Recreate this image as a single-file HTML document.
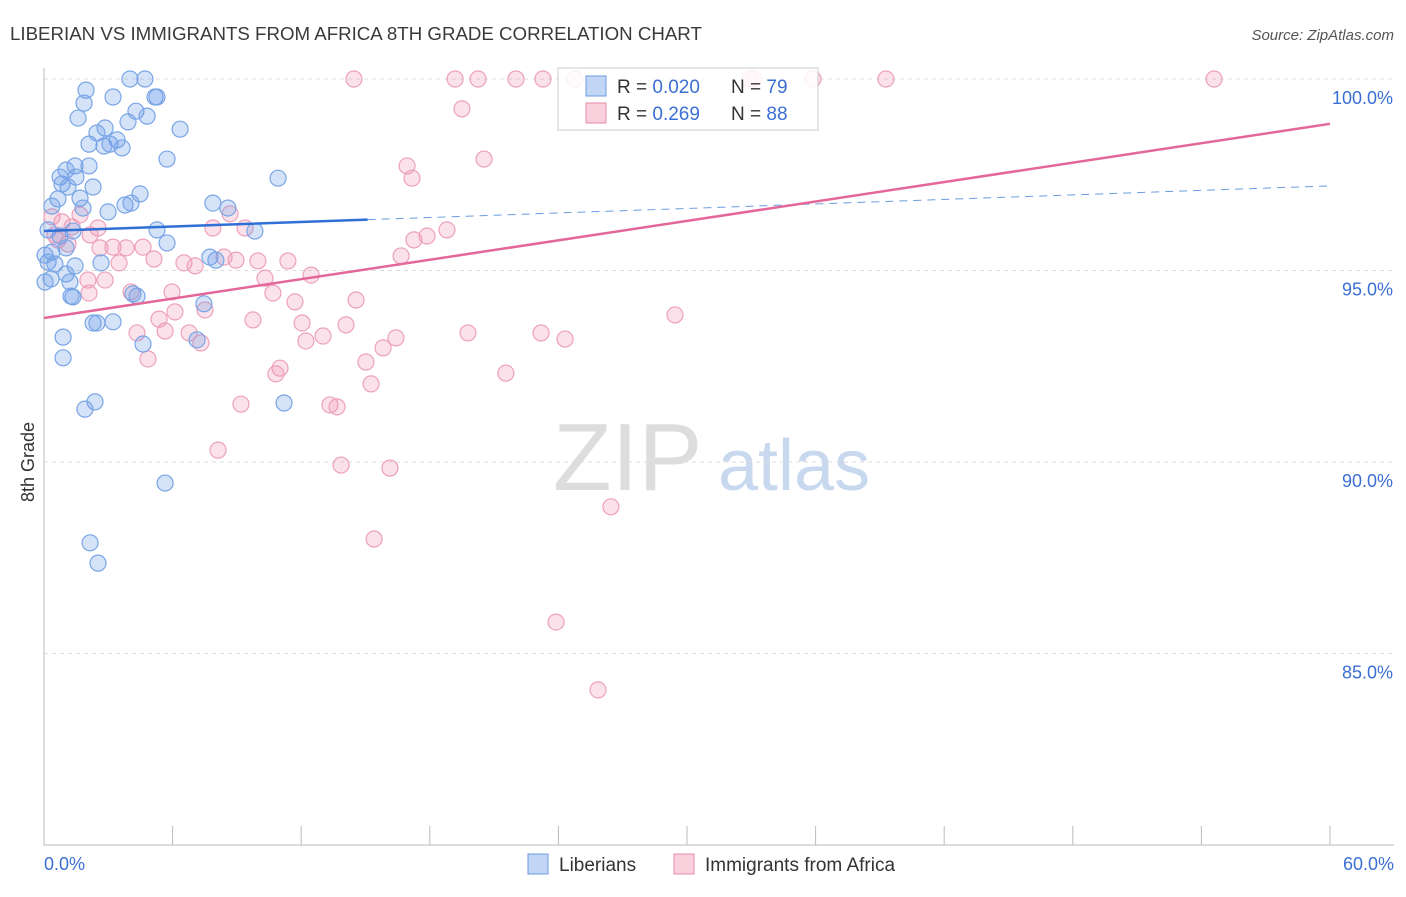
<!DOCTYPE html>
<html><head><meta charset="utf-8"><style>
body{margin:0;background:#fff;font-family:"Liberation Sans",sans-serif;}
svg text{font-family:"Liberation Sans",sans-serif;}
</style></head><body>
<svg id="chart" width="1406" height="892">
<text x="10" y="40" font-size="18.7" fill="#3a3a3a">LIBERIAN VS IMMIGRANTS FROM AFRICA 8TH GRADE CORRELATION CHART</text>
<text x="1394" y="40" font-size="15" fill="#555" font-style="italic" text-anchor="end">Source: ZipAtlas.com</text>
<text x="34" y="462" font-size="18" fill="#333" transform="rotate(-90 34 462)" text-anchor="middle">8th Grade</text>
<text x="553" y="490" font-size="96" fill="#ddd" font-family="Liberation Serif">ZIP</text>
<text x="718" y="490" font-size="72" fill="#c8d8ee">atlas</text>
<g id="grid"></g><g id="ticks"></g><g id="pts"></g><g id="trends"></g>
<g>
<rect x="558" y="68" width="260" height="62" fill="rgba(255,255,255,0.85)" stroke="#ccc"/>
<rect x="586" y="76" width="20" height="20" fill="rgba(100,150,230,0.4)" stroke="#6a9be0"/>
<text x="617" y="93" font-size="19" fill="#333">R = <tspan fill="#3b6fd4">0.020</tspan></text>
<text x="731" y="93" font-size="19" fill="#333">N = <tspan fill="#3b6fd4">79</tspan></text>
<rect x="586" y="103" width="20" height="20" fill="rgba(240,140,170,0.4)" stroke="#e88aab"/>
<text x="617" y="120" font-size="19" fill="#333">R = <tspan fill="#3b6fd4"> 0.269</tspan></text>
<text x="731" y="120" font-size="19" fill="#333">N = <tspan fill="#3b6fd4">88</tspan></text>
</g>
<g>
<rect x="528" y="854" width="20" height="20" fill="rgba(100,150,230,0.4)" stroke="#6a9be0"/>
<text x="559" y="871" font-size="19" fill="#333">Liberians</text>
<rect x="674" y="854" width="20" height="20" fill="rgba(240,140,170,0.4)" stroke="#e88aab"/>
<text x="705" y="871" font-size="19" fill="#333">Immigrants from Africa</text>
</g>
</svg>
<script>
const blueX=[4.01,4.71,1.96,5.18,5.27,3.22,1.87,4.29,4.81,1.59,3.92,2.85,6.35,2.47,3.41,2.10,2.80,3.08,3.64,5.74,2.10,1.45,1.03,0.75,1.49,10.92,0.84,1.12,2.29,4.48,0.65,1.68,0.37,3.78,4.06,7.88,8.58,2.99,1.82,5.27,9.84,0.19,1.35,0.75,5.74,1.03,0.37,7.74,8.02,2.66,1.45,0.19,0.51,1.03,1.21,0.33,0.05,1.35,4.15,4.34,1.26,7.46,2.29,2.47,3.22,0.89,7.14,4.62,0.89,2.38,1.91,11.20,5.65,2.15,2.52,0.05];
const blueY=[100,100,99.71,99.53,99.53,99.53,99.37,99.16,99.03,98.98,98.88,98.72,98.69,98.59,98.41,98.30,98.25,98.30,98.20,97.91,97.73,97.73,97.62,97.44,97.44,97.41,97.26,97.18,97.18,97.00,96.87,96.89,96.68,96.71,96.76,96.76,96.63,96.53,96.63,96.06,96.03,96.06,96.03,95.90,95.72,95.59,95.48,95.35,95.27,95.20,95.12,95.22,95.17,94.91,94.70,94.78,94.70,94.31,94.39,94.33,94.33,94.13,93.63,93.63,93.66,93.26,93.19,93.08,92.72,91.57,91.38,91.54,89.45,87.89,87.36,95.40];
const pinkX=[14.46,19.18,20.25,22.02,23.28,24.77,32.94,33.13,35.88,39.28,54.59,19.50,20.53,16.94,17.17,8.68,1.68,0.37,0.84,2.52,1.31,9.38,7.88,18.80,17.87,17.26,0.65,2.61,3.83,4.62,3.22,8.40,8.96,5.13,6.53,7.05,3.50,9.98,11.38,16.66,12.46,10.31,2.05,2.85,4.06,5.97,10.68,2.10,14.56,11.71,7.51,6.11,5.37,9.75,12.04,14.09,29.44,4.34,6.77,5.65,19.78,23.19,24.31,13.02,12.22,16.42,7.32,15.82,4.85,15.02,11.01,10.82,21.55,15.26,9.19,13.34,13.67,8.12,13.86,16.14,26.45,15.40,23.89,25.85,0.51,2.15,1.12];
const pinkY=[100,100,100,100,100,100,100,100,100,100,100,99.22,97.91,97.73,97.41,96.48,96.45,96.40,96.27,96.11,96.14,96.11,96.11,96.06,95.90,95.80,95.80,95.59,95.59,95.61,95.61,95.35,95.27,95.30,95.20,95.12,95.20,95.25,95.25,95.38,94.88,94.80,94.75,94.75,94.44,94.44,94.41,94.41,94.23,94.18,93.97,93.92,93.73,93.71,93.63,93.58,93.84,93.37,93.37,93.42,93.37,93.37,93.21,93.29,93.16,93.24,93.11,92.98,92.69,92.61,92.45,92.30,92.32,92.04,91.51,91.49,91.44,90.31,89.92,89.84,88.83,87.99,85.82,84.05,95.93,95.93,95.69];
const yTicks=[100,95,90,85];
const yTickLabels=["100.0%","95.0%","90.0%","85.0%"];
const blueTrend=[96.03,97.21];
const pinkTrend=[93.76,98.83];
const NS="http://www.w3.org/2000/svg";
const xs=v=>44+v/60*1286;
const ys=v=>79+(100-v)*38.3;
function mk(tag,attrs,parent){const e=document.createElementNS(NS,tag);for(const k in attrs)e.setAttribute(k,attrs[k]);document.getElementById(parent).appendChild(e);return e;}
yTicks.forEach((t,i)=>{
 const l=mk('line',{x1:44,x2:1394,y1:ys(t),y2:ys(t),stroke:'#ddd','stroke-dasharray':'4,4'},'grid');
 
 
 const tx=mk('text',{x:1393,y:ys(t)+25,'font-size':18,fill:'#3b6fd4','text-anchor':'end'},'ticks');
 tx.textContent=yTickLabels[i];
 
 
});
const ax=mk('line',{x1:44,x2:44,y1:68,y2:845,stroke:'#bbb'},'grid');


const bx=mk('line',{x1:44,x2:1394,y1:845,y2:845,stroke:'#bbb'},'grid');


for(let i=0;i<=10;i++){const t=mk('line',{x1:xs(i*6),x2:xs(i*6),y1:826,y2:845,stroke:'#bbb'},'grid');
 
 }
[[0,"0.0%",'start',44],[60,"60.0%",'end',1394]].forEach(a=>{const t=mk('text',{x:a[3],y:870,'font-size':18,fill:'#3b6fd4','text-anchor':a[2]},'ticks');t.textContent=a[1];
 
 });
pinkX.forEach((x,i)=>{const c=mk('circle',{cx:xs(x),cy:ys(pinkY[i]),r:8,fill:'rgba(240,140,170,0.25)',stroke:'#eda0bc','stroke-width':1.2},'pts');
 
 });
blueX.forEach((x,i)=>{const c=mk('circle',{cx:xs(x),cy:ys(blueY[i]),r:8,fill:'rgba(100,150,230,0.27)',stroke:'#79a5e6','stroke-width':1.2},'pts');
 
 });
const bt=v=>blueTrend[0]+(blueTrend[1]-blueTrend[0])*v/60;
const b1=mk('line',{x1:xs(0),y1:ys(bt(0)),x2:xs(15.1),y2:ys(bt(15.1)),stroke:'#2f6fd6','stroke-width':2.5},'trends');


const b2=mk('line',{x1:xs(15.1),y1:ys(bt(15.1)),x2:xs(60),y2:ys(bt(60)),stroke:'#6a9be0','stroke-width':1,'stroke-dasharray':'8,6'},'trends');


const p1=mk('line',{x1:xs(0),y1:ys(pinkTrend[0]),x2:xs(60),y2:ys(pinkTrend[1]),stroke:'#e4679a','stroke-width':2.5},'trends');


</script>
</body></html>
